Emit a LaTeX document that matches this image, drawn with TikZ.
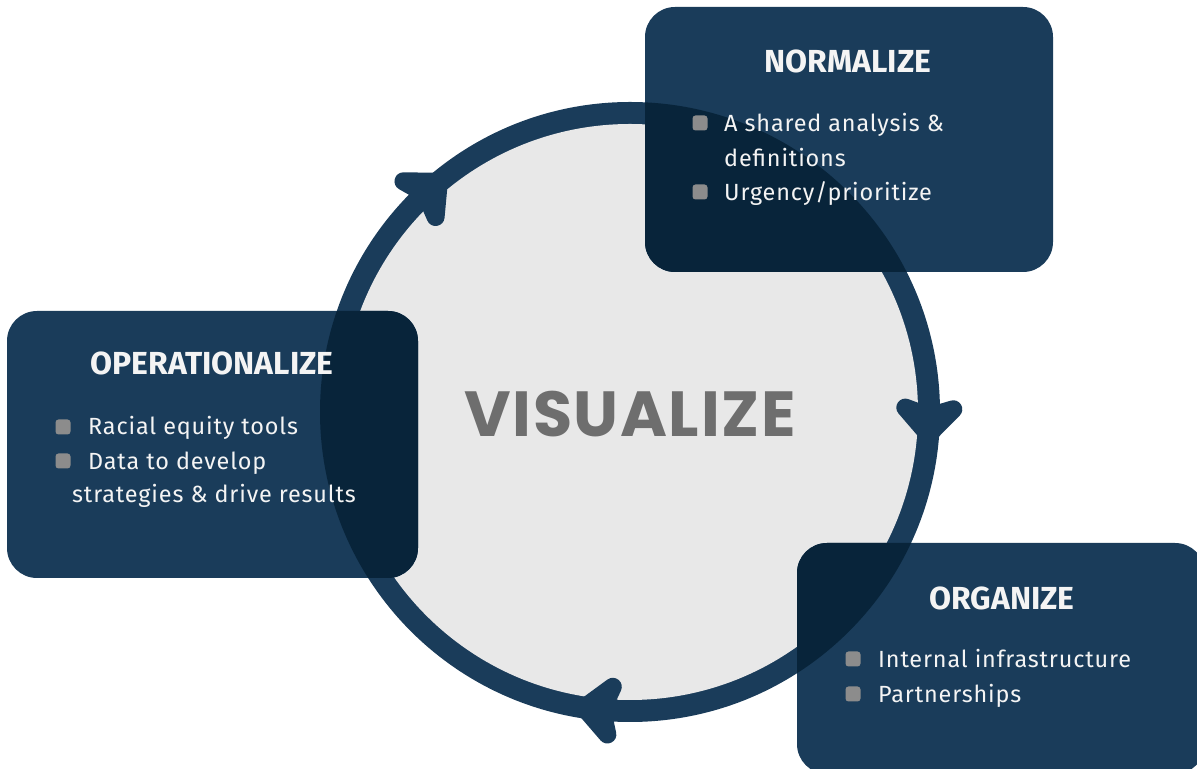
\documentclass[tikz,border=0pt]{standalone}
\usepackage{fontspec}
\setmainfont{Fira Sans}
\newfontfamily\popfont{Poppins}
\newfontfamily\itemfont[LetterSpace=3.6]{Fira Sans}
\definecolor{boxblue}{HTML}{1A3C5A}
\definecolor{darkblue}{HTML}{08243A}
\definecolor{ringblue}{HTML}{1A3C5A}
\definecolor{diskgray}{HTML}{E8E8E8}
\definecolor{bulletgray}{HTML}{8C8C8C}
\definecolor{vizgray}{HTML}{6E6E6E}
\definecolor{txtwhite}{HTML}{F4F4F4}
\begin{document}
\begin{tikzpicture}[x=1bp,y=1bp,
  panel/.style={fill=boxblue, rounded corners=30bp},
  overlap/.style={rounded corners=30bp},
  titletext/.style={text=txtwhite, font=\fontsize{32}{38}\selectfont\bfseries, anchor=base, inner sep=0pt},
  itemtext/.style={text=txtwhite, font=\itemfont\fontsize{23.5}{28}\selectfont, anchor=base west, inner sep=0pt},
  bulletbox/.style={fill=bulletgray, rounded corners=3bp, minimum size=15bp, inner sep=0pt},
  arrowtip/.style={fill=ringblue, draw=ringblue, line width=18bp, line join=round},
  centertext/.style={text=vizgray, font=\popfont\fontsize{64}{70}\selectfont\bfseries\addfontfeature{LetterSpace=2.5}, anchor=base, inner sep=0pt}]
\useasboundingbox (0,0) rectangle (1197,769);
\clip (0,0) rectangle (1197,769);
\coordinate (c) at (630,357);
% ring and disk
\fill[ringblue] (c) circle (310);
\fill[diskgray] (c) circle (288);
% arrowheads
\begin{scope}[shift={(630,357)}]
  \foreach \a in {132,-2,-96.5} {
    \filldraw[arrowtip, rotate=\a, shift={(299,0)}, rotate=-90]
      (12,0) -- (-14,24) -- (-6,0) -- (-14,-24) -- cycle;
  }
\end{scope}
% panels
\fill[panel] (645,497) rectangle (1053,762);
\fill[panel] (7,191) rectangle (418,458);
\fill[panel] (797,-5) rectangle (1205,226);
% darker overlap of disk and panels
\begin{scope}
  \clip[overlap] (645,497) rectangle (1053,762);
  \fill[darkblue] (c) circle (310);
\end{scope}
\begin{scope}
  \clip[overlap] (7,191) rectangle (418,458);
  \fill[darkblue] (c) circle (310);
\end{scope}
\begin{scope}
  \clip[overlap] (797,-5) rectangle (1205,226);
  \fill[darkblue] (c) circle (310);
\end{scope}
% center text
\node[centertext] (viz) at (630,332) {VISUALIZE};
% NORMALIZE
\node[titletext] (ntitle) at (848,696) {NORMALIZE};
\node[bulletbox] (nb1) at (700,646) {};
\node[bulletbox] (nb2) at (700,577) {};
\node[itemtext] (n1) at (724,637) {A shared analysis \&};
\node[itemtext] (n2) at (724,602) {definitions};
\node[itemtext] (n3) at (724,568) {Urgency/prioritize};
% OPERATIONALIZE
\node[titletext] (otitle) at (212,394) {OPERATIONALIZE};
\node[bulletbox] (ob1) at (63,342) {};
\node[bulletbox] (ob2) at (63,308) {};
\node[itemtext] (o1) at (88,334) {Racial equity tools};
\node[itemtext] (o2) at (88,299) {Data to develop};
\node[itemtext] (o3) at (72,266) {strategies \& drive results};
% ORGANIZE
\node[titletext] (gtitle) at (1002,159) {ORGANIZE};
\node[bulletbox] (gb1) at (853,110) {};
\node[bulletbox] (gb2) at (853,75) {};
\node[itemtext] (g1) at (878,101) {Internal infrastructure};
\node[itemtext] (g2) at (878,66) {Partnerships};
\end{tikzpicture}
\end{document}
